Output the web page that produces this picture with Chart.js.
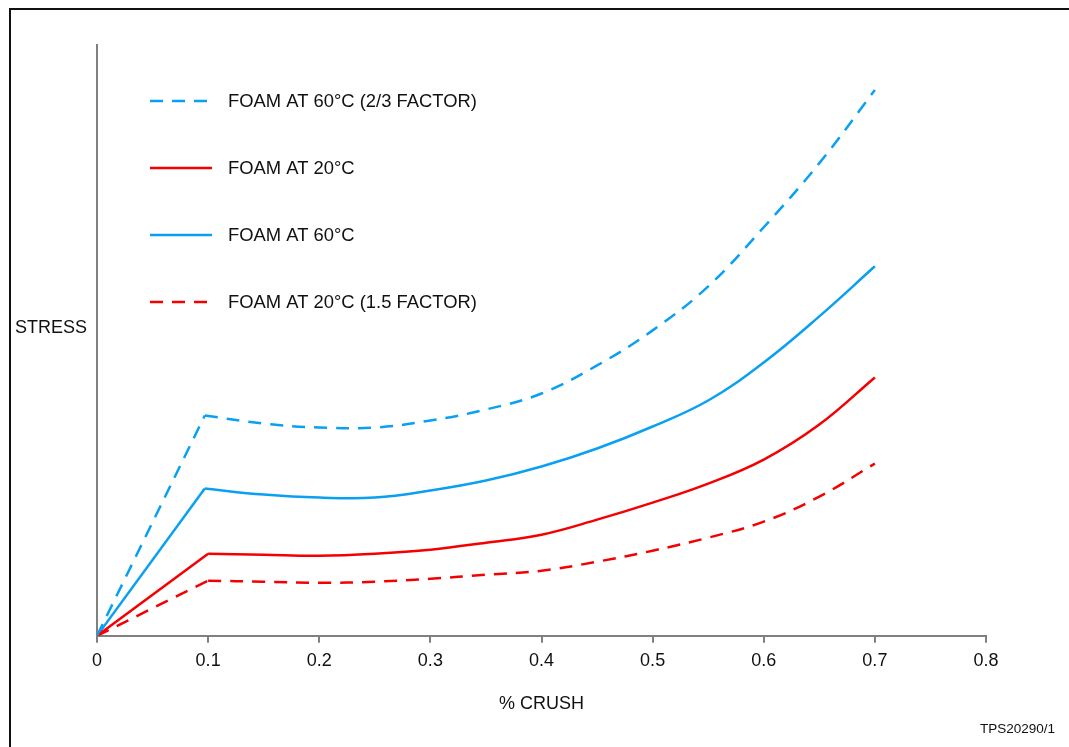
<!DOCTYPE html>
<html>
<head>
<meta charset="utf-8">
<script src="https://cdn.jsdelivr.net/npm/chart.js@4.4.1/dist/chart.umd.min.js"></script>
<style>
  html, body { margin: 0; padding: 0; background: #fff; overflow: hidden; }
  #wrap { position: relative; width: 1069px; height: 747px; }
  #frame { position: absolute; left: 9px; top: 8px; width: 1100px; height: 800px; border: 2px solid #111; box-sizing: border-box; }
  canvas { position: absolute; left: 0; top: 0; }
  .note { position: absolute; font-family: "Liberation Sans", Arial, sans-serif; color: #111; line-height: 1; white-space: nowrap; }
</style>
</head>
<body>
<div id="wrap">
  <div id="frame"></div>
  <canvas id="chart" width="1069" height="747"></canvas>
  <div class="note" style="left:15px; top:318px; font-size:18px;">STRESS</div>
  <div class="note" style="left:980px; top:722px; font-size:13.5px;">TPS20290/1</div>
</div>
<script>
// % crush positions where the curves were read (first = origin, second = yield kink)
const crush60 = [0, 0.097, 0.15, 0.2, 0.25, 0.3, 0.35, 0.4, 0.45, 0.5, 0.55, 0.6, 0.65, 0.7];
const crush20 = [0, 0.1, 0.15, 0.2, 0.25, 0.3, 0.35, 0.4, 0.45, 0.5, 0.55, 0.6, 0.65, 0.7];

// stress, arbitrary units (no scale printed on the original)
const foam60Factor = [0, 220, 212, 208, 208, 215, 226, 242, 270, 305, 349, 408, 472, 545];
const foam20 = [0, 82, 81, 80, 82, 86, 93, 101, 116, 133, 152, 176, 211, 258];
const foam60 = [0, 147, 141, 138, 138, 145, 155, 169, 187, 209, 235, 273, 319, 369];
const foam20Factor = [0, 55, 54, 53, 54, 57, 61, 65, 74, 85, 98, 114, 139, 172];

const crushTicks = [0, 0.1, 0.2, 0.3, 0.4, 0.5, 0.6, 0.7, 0.8];

const BLUE = "#0aa0f2";
const RED = "#f50000";
const FONT = "'Liberation Sans', Arial, sans-serif";

const series = [
  { label: "FOAM AT 60°C (2/3 FACTOR)", xs: crush60, ys: foam60Factor, color: BLUE, dash: [13, 9] },
  { label: "FOAM AT 20°C", xs: crush20, ys: foam20, color: RED, dash: [] },
  { label: "FOAM AT 60°C", xs: crush60, ys: foam60, color: BLUE, dash: [] },
  { label: "FOAM AT 20°C (1.5 FACTOR)", xs: crush20, ys: foam20Factor, color: RED, dash: [13, 9] },
];

function points(xs, ys, from, to) {
  return xs.slice(from, to).map((x, i) => ({ x, y: ys[from + i] }));
}

// straight rise up to the kink, smooth curve after it
const datasets = [];
series.forEach((s) => {
  const base = {
    borderColor: s.color,
    borderWidth: 2.5,
    borderDash: s.dash,
    pointRadius: 0,
    fill: false,
  };
  datasets.push({ ...base, label: s.label + " rise", data: points(s.xs, s.ys, 0, 2), tension: 0 });
  datasets.push({ ...base, label: s.label, legend: true, data: points(s.xs, s.ys, 1), tension: 0.4 });
});

const insideLegend = {
  id: "insideLegend",
  afterDraw(chart) {
    const ctx = chart.ctx;
    const items = chart.data.datasets.filter((d) => d.legend);
    ctx.save();
    ctx.font = `18.4px ${FONT}`;
    ctx.textBaseline = "middle";
    items.forEach((d, i) => {
      const y = 101 + i * 67;
      ctx.strokeStyle = d.borderColor;
      ctx.lineWidth = 2.5;
      ctx.setLineDash(d.borderDash);
      ctx.beginPath();
      ctx.moveTo(150, y);
      ctx.lineTo(212, y);
      ctx.stroke();
      ctx.setLineDash([]);
      ctx.fillStyle = "#111";
      ctx.fillText(d.label, 228, y + 1);
    });
    ctx.restore();
  },
};

new Chart(document.getElementById("chart"), {
  type: "line",
  data: { datasets },
  options: {
    responsive: false,
    animation: false,
    devicePixelRatio: 1,
    layout: { padding: { left: 89, top: 45, right: 83, bottom: 32 } },
    plugins: { legend: { display: false }, tooltip: { enabled: false } },
    scales: {
      x: {
        type: "linear",
        min: 0,
        max: 0.8,
        afterBuildTicks: (scale) => {
          scale.ticks = crushTicks.map((v) => ({ value: v }));
        },
        ticks: {
          color: "#111",
          font: { family: FONT, size: 18 },
          padding: 7,
          maxRotation: 0,
          callback: (v) => String(v),
        },
        grid: { drawOnChartArea: false, tickLength: 7, color: "#808080", lineWidth: 2 },
        border: { color: "#808080", width: 2 },
        title: {
          display: true,
          text: "% CRUSH",
          color: "#111",
          font: { family: FONT, size: 18 },
          padding: { top: 15, bottom: 0 },
        },
      },
      y: {
        min: 0,
        max: 590,
        ticks: { display: false },
        grid: { display: false },
        border: { color: "#808080", width: 2 },
      },
    },
  },
  plugins: [insideLegend],
});
</script>
</body>
</html>
